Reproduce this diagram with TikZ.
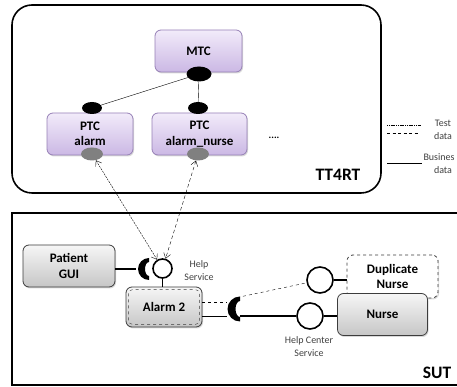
\documentclass[tikz,border=0pt]{standalone}
\usepackage{fontspec}
\setmainfont{Carlito}
\usepackage{tikz}
\usetikzlibrary{shadows,shapes.geometric,arrows.meta}
\definecolor{ptctop}{RGB}{242,235,250}
\definecolor{ptcbot}{RGB}{203,184,228}
\definecolor{ptcline}{RGB}{150,128,182}
\definecolor{sutop}{RGB}{246,246,246}
\definecolor{subot}{RGB}{198,198,198}
\definecolor{suline}{RGB}{60,60,60}
\definecolor{portgrey}{RGB}{128,128,128}

\begin{document}
\begin{tikzpicture}[x=1pt,y=1pt,>={Straight Barb[length=5pt,width=7pt]}]
	\tikzstyle{comp}=[rounded corners=6pt,draw=ptcline,line width=0.8pt,top color=ptctop,bottom color=ptcbot,
		minimum height=42pt,align=center,font=\fontsize{13}{15.5}\selectfont\bfseries,
		drop shadow={opacity=0.3,shadow xshift=1pt,shadow yshift=-1.5pt}]
	\tikzstyle{sut}=[comp,draw=suline,top color=sutop,bottom color=subot]
	\tikzstyle{port}=[ellipse,fill=black,inner sep=0pt]
	\tikzstyle{gport}=[ellipse,fill=portgrey,inner sep=0pt,minimum width=22pt,minimum height=13pt]
	\tikzstyle{lolli}=[circle,draw=black,line width=1.6pt,fill=white,inner sep=0pt]
	\tikzstyle{sock}=[circle,inner sep=0pt,minimum size=25pt]
	\tikzstyle{small}=[align=center,text=black!75,font=\fontsize{10}{13}\selectfont]
	\tikzstyle{fine}=[dash pattern=on 2pt off 1pt]
	\tikzstyle{dsh}=[dash pattern=on 3.5pt off 2.5pt]
	\tikzstyle{big}=[font=\fontsize{17.5}{20}\selectfont\bfseries]
	\useasboundingbox (0,0) rectangle (457,387);

	% TT4RT
	\draw[line width=1.6pt,rounded corners=20pt] (12,382) rectangle (381,194);
	\node[big] (tt) at (338,212) {TT4RT};
	\node[comp,minimum width=87pt] (mtc) at (198.5,336) {MTC};
	\node[comp,minimum width=86pt] (ptca) at (90,253) {PTC\\alarm};
	\node[comp,minimum width=95pt] (ptcn) at (199.5,253) {PTC\\alarm\_nurse};
	\node[port,minimum width=25pt,minimum height=15pt] (mport) at (199,313) {};
	\node[port,minimum width=20pt,minimum height=12pt] (aport) at (92,279) {};
	\node[port,minimum width=20pt,minimum height=12pt] (nport) at (198,279) {};
	\node[gport] (ga) at (92,233) {};
	\node[gport] (gn) at (198,233) {};
	\node[font=\bfseries] (dots) at (274,249) {....};
	\draw[thin] (mport) -- (aport);
	\draw[thin] (mport) -- (nport);

	% legend
	\coordinate (l1) at (387,262);
	\coordinate (l2) at (387,254);
	\coordinate (l3) at (387,224);
	\draw[thin,dash pattern=on 1.2pt off 0.6pt] (l1) -- ++(34,0);
	\draw[thin,dash pattern=on 3pt off 2.5pt] (l2) -- ++(31,0);
	\draw[thin] (l3) -- ++(35,0);
	\node[small] (ltest) at (443,257.5) {Test\\data};
	\node[small,anchor=west] (lbus) at (420,230) {Busines};
	\node[small] (ldata) at (443,217) {data};

	% SUT
	\draw[line width=1.6pt] (460,174) -- (12,174) -- (12,2) -- (460,2);
	\node[big] (sutlbl) at (437,14) {SUT};
	\node[sut,minimum width=92pt] (gui) at (69,121) {Patient\\GUI};
	\node[sut,minimum width=76pt,minimum height=40pt] (alarm) at (164,80) {Alarm 2};
	\draw[suline,dashed,rounded corners=4pt] ([shift={(3pt,3pt)}]alarm.south west) rectangle ([shift={(-3pt,-3pt)}]alarm.north east);
	\node[comp,draw=suline,dashed,fill=white,top color=white,bottom color=white,drop shadow={opacity=0},minimum width=91pt,minimum height=43pt] (dup) at (392.5,110.5) {Duplicate\\Nurse};
	\node[sut,minimum width=90pt] (nurse) at (382.5,72.5) {Nurse};

	% interfaces
	\node[sock] (hsock) at (149,118) {};
	\node[lolli,minimum size=19pt] (hs) at (162.5,118.5) {};
	\node[small] (hstxt) at (199,116) {Help\\Service};
	\node[sock] (rsock) at (240,78) {};
	\node[lolli,minimum size=26pt] (hc) at (310,71) {};
	\node[lolli,minimum size=26pt] (dc) at (320,107) {};
	\node[small] (hctxt) at (309,40) {Help Center\\Service};

	\draw[line width=1.5pt] (gui.east |- hsock) -- (hsock.west);
	\draw[line width=1.5pt] (hs) -- (hs |- alarm.north);
	\draw[thin,dashed] ([yshift=5pt]alarm.east) -- ([yshift=7pt]rsock.west);
	\draw[thin] ([yshift=-9pt]alarm.east) -- ([yshift=-7pt]rsock.west);
	\draw[thin,dashed] ([xshift=3pt]rsock.north) -- (dc);
	\draw[line width=1.5pt] ([yshift=-7pt]rsock.center) -- (hc.west);
	\draw[line width=1.5pt] (hc.east) -- (hc.east -| nurse.west);
	\draw[line width=1.5pt] (dc.east) -- (dc.east -| dup.west);

	% sockets
	\fill (hsock.center) ++(0,11) arc[start angle=90,end angle=270,radius=11]
		-- ++(0,4) arc[start angle=270,end angle=90,x radius=4,y radius=7] -- cycle;
	\fill (rsock.center) ++(0,12.5) arc[start angle=90,end angle=270,radius=12.5]
		-- ++(0,4.5) arc[start angle=270,end angle=90,x radius=4.5,y radius=8] -- cycle;

	% test data
	\draw[thin,fine,<->] (ga) -- (hs);
	\draw[thin,dsh,<->] (gn) -- (hs);
\end{tikzpicture}
\end{document}
